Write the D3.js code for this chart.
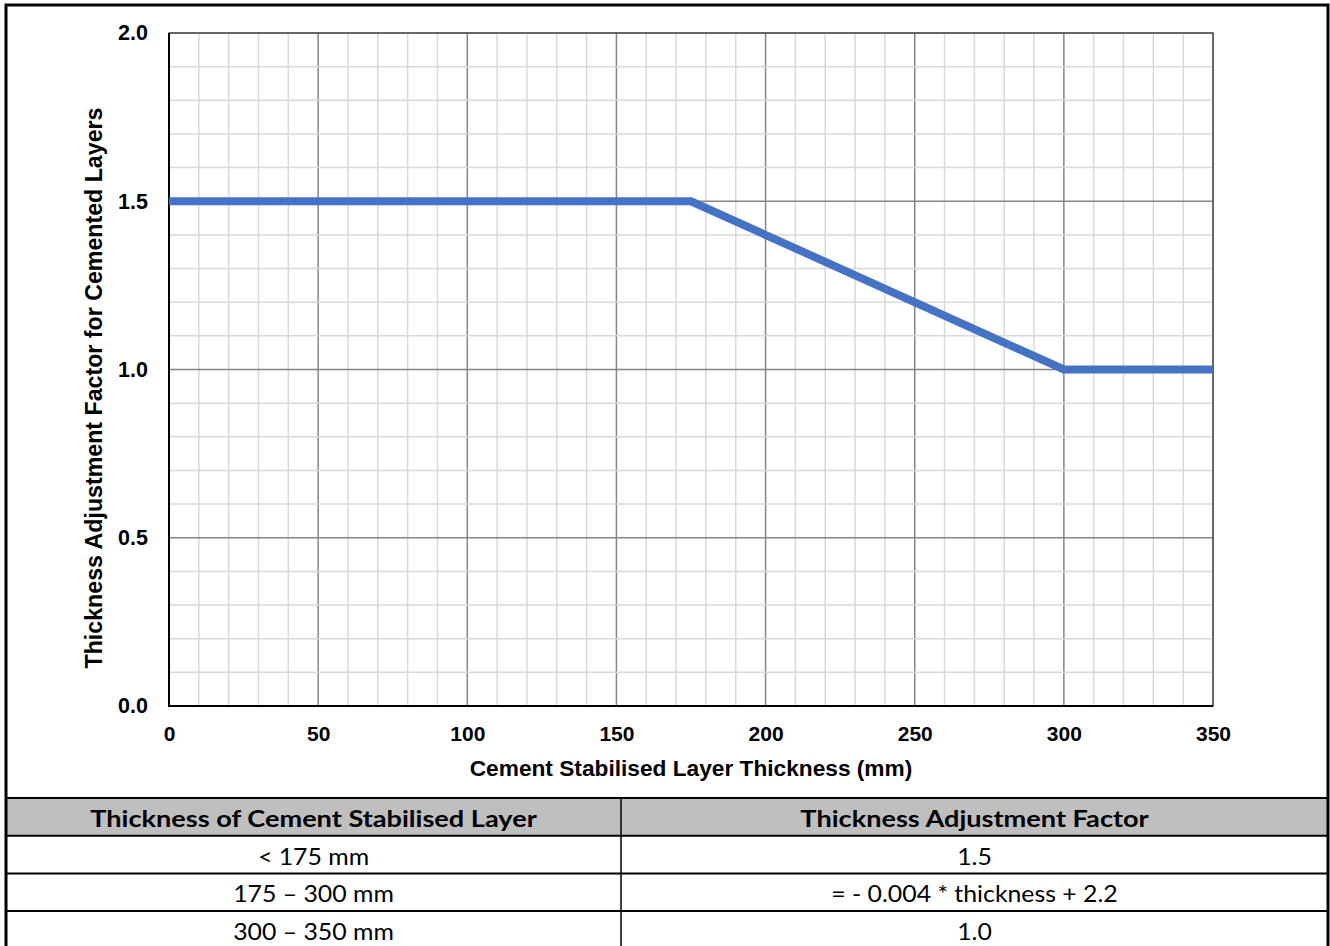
<!DOCTYPE html>
<html><head><meta charset="utf-8">
<script src="https://cdn.jsdelivr.net/npm/d3@7"></script>
<style>body{margin:0;background:#fff;} svg{display:block;}</style>
</head><body>
<svg id="c" width="1330" height="946"></svg>
<script>
const thickness = [0, 175, 300, 350];
const factor = [1.5, 1.5, 1.0, 1.0];
const xTicks = [0, 50, 100, 150, 200, 250, 300, 350];
const yTicks = [0.0, 0.5, 1.0, 1.5, 2.0];
const xTitle = "Cement Stabilised Layer Thickness (mm)";
const yTitle = "Thickness Adjustment Factor for Cemented Layers";
const tableHeader = ["Thickness of Cement Stabilised Layer", "Thickness Adjustment Factor"];
const tableCol1 = ["< 175 mm", "175 \u2013 300 mm", "300 \u2013 350 mm"];
const tableCol2 = ["1.5", "= - 0.004 * thickness + 2.2", "1.0"];

const svg = d3.select("#c");
const L = 169, R = 1213, T = 33, B = 706;
const x = d3.scaleLinear().domain([0, 350]).range([L, R]);
const y = d3.scaleLinear().domain([0, 2]).range([B, T]);
const FONT = "'Liberation Sans', Arial, sans-serif";

// grid
const g = svg.append("g");
g.selectAll("line.vx").data(d3.range(0, 351, 10)).join("line")
  .attr("x1", d => x(d)).attr("x2", d => x(d)).attr("y1", T).attr("y2", B)
  .attr("stroke", d => d % 50 === 0 ? "#858585" : "#d9d9d9").attr("stroke-width", 1.5);
g.selectAll("line.hy").data(d3.range(0, 21)).join("line")
  .attr("y1", d => y(d / 10)).attr("y2", d => y(d / 10)).attr("x1", L).attr("x2", R)
  .attr("stroke", d => d % 5 === 0 ? "#858585" : "#d9d9d9").attr("stroke-width", 1.5);
// plot border
svg.append("rect").attr("x", L).attr("y", T).attr("width", R - L).attr("height", B - T)
  .attr("fill", "none").attr("stroke", "#404040").attr("stroke-width", 1.2);
svg.append("line").attr("x1", L).attr("x2", L).attr("y1", T).attr("y2", B + 1).attr("stroke", "#000").attr("stroke-width", 2);
svg.append("line").attr("x1", L - 1).attr("x2", R).attr("y1", B).attr("y2", B).attr("stroke", "#000").attr("stroke-width", 2);

// axes labels
const xAxis = d3.axisBottom(x).tickValues(xTicks).tickSize(0).tickPadding(20).tickFormat(d3.format("d"));
const xa = svg.append("g").attr("transform", `translate(0,${B})`).call(xAxis);
xa.select(".domain").remove();
xa.selectAll("text").attr("font-family", FONT).attr("font-weight", "bold").attr("font-size", 21).attr("fill", "#000");
const yAxis = d3.axisLeft(y).tickValues(yTicks).tickSize(0).tickPadding(21).tickFormat(d3.format(".1f"));
const ya = svg.append("g").attr("transform", `translate(${L},0)`).call(yAxis);
ya.select(".domain").remove();
ya.selectAll("text").attr("font-family", FONT).attr("font-weight", "bold").attr("font-size", 21.5).attr("fill", "#000");

svg.append("text").attr("x", (L + R) / 2).attr("y", 776).attr("text-anchor", "middle")
  .attr("font-family", FONT).attr("font-weight", "bold").attr("font-size", 22.7)
  .text(xTitle);
svg.append("text").attr("transform", `translate(102,388) rotate(-90)`).attr("text-anchor", "middle")
  .attr("font-family", FONT).attr("font-weight", "bold").attr("font-size", 23.2)
  .text(yTitle);

// line
const pts = thickness.map((t, i) => [t, factor[i]]);
svg.append("path").datum(pts)
  .attr("d", d3.line().x(d => x(d[0])).y(d => y(d[1])))
  .attr("fill", "none").attr("stroke", "#4472C4").attr("stroke-width", 8).attr("stroke-linejoin", "miter");

// table
const tTop = 798, rowH = 37.7, cx = [6, 621, 1328];
svg.append("rect").attr("x", cx[0]).attr("y", tTop).attr("width", cx[2] - cx[0]).attr("height", rowH).attr("fill", "#bfbfbf");
const rows = [tableHeader].concat(tableCol1.map((c, i) => [c, tableCol2[i]]));
rows.forEach((r, i) => {
  r.forEach((txt, j) => {
    const sx = i === 0 ? 1.18 : 1.08;
    svg.append("text")
      .attr("transform", `translate(${(cx[j] + cx[j + 1]) / 2},${tTop + i * rowH + 29}) scale(${sx},1)`)
      .attr("text-anchor", "middle").attr("font-family", "Lato, 'Open Sans', sans-serif")
      .attr("font-weight", i === 0 ? "bold" : "normal").attr("font-size", 23).attr("fill", "#000")
      .text(txt);
  });
});
d3.range(0, 5).forEach(i => {
  svg.append("line").attr("x1", cx[0]).attr("x2", cx[2]).attr("y1", tTop + i * rowH).attr("y2", tTop + i * rowH)
    .attr("stroke", "#000").attr("stroke-width", 2);
});
svg.append("line").attr("x1", cx[1]).attr("x2", cx[1]).attr("y1", tTop).attr("y2", 946).attr("stroke", "#000").attr("stroke-width", 1.5);

// outer frame
svg.append("path").attr("d", `M6,946 V5 H1328 V946`).attr("fill", "none").attr("stroke", "#000").attr("stroke-width", 3);
</script>
</body></html>
